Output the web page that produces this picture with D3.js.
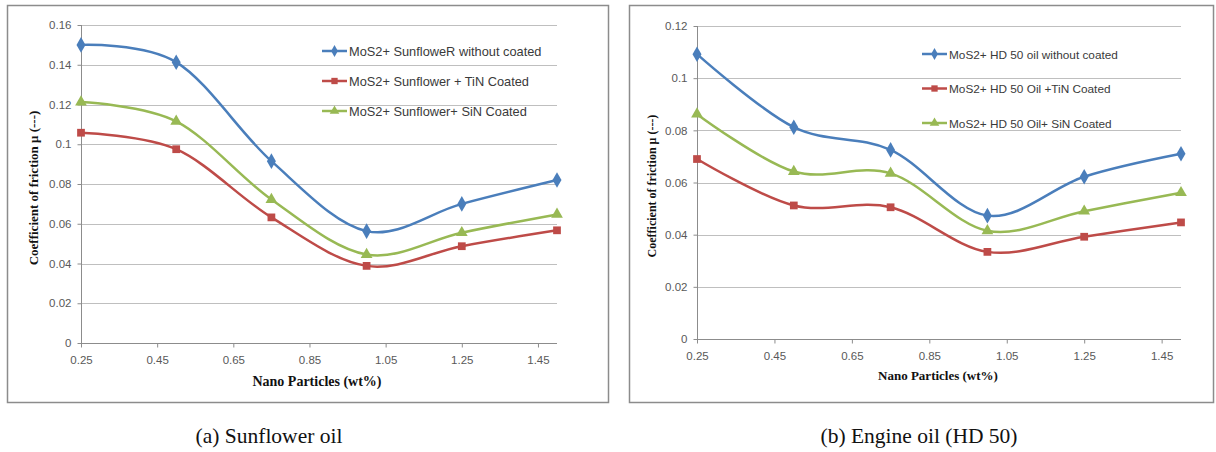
<!DOCTYPE html>
<meta charset="utf-8">
<style>
  body { margin: 0; background: #fff; }
  svg { display: block; }
</style>
<svg width="1216" height="452"></svg>
<script src="https://d3js.org/d3.v7.min.js"></script>
<script>

var loads = [0.25, 0.5, 0.75, 1.0, 1.25, 1.5];
var xTicks = [0.25, 0.45, 0.65, 0.85, 1.05, 1.25, 1.45];

// (a) sunflower oil
var sunNames = ["MoS2+ SunfloweR without coated", "MoS2+ Sunflower + TiN Coated", "MoS2+ Sunflower+ SiN Coated"];
var sunPlain = [0.150, 0.1413, 0.0915, 0.0563, 0.0700, 0.0820];
var sunTiN   = [0.1058, 0.0975, 0.0632, 0.0388, 0.0487, 0.0567];
var sunSiN   = [0.1212, 0.1115, 0.0722, 0.0445, 0.0555, 0.0647];
var sunYTicks = [0, 0.02, 0.04, 0.06, 0.08, 0.1, 0.12, 0.14, 0.16];

// (b) engine oil HD 50
var hdNames = ["MoS2+ HD 50 oil without coated", "MoS2+ HD 50 Oil +TiN Coated", "MoS2+ HD 50 Oil+ SiN Coated"];
var hdPlain = [0.1092, 0.0812, 0.0725, 0.0473, 0.0622, 0.0710];
var hdTiN   = [0.0690, 0.0512, 0.0505, 0.0334, 0.0392, 0.0447];
var hdSiN   = [0.0862, 0.0642, 0.0635, 0.0415, 0.0490, 0.0561];
var hdYTicks = [0, 0.02, 0.04, 0.06, 0.08, 0.1, 0.12];

var colors = ["#4A7EBB", "#BE4B48", "#98B954"];
var shapes = [d3.symbolDiamond, d3.symbolSquare, d3.symbolTriangle];

var svg = d3.select("svg");

function drawPanel(p) {
  var g = svg.append("g");

  g.append("rect")
    .attr("x", p.frame[0] + 0.5).attr("y", p.frame[1] + 0.5)
    .attr("width", p.frame[2]).attr("height", p.frame[3])
    .style("fill", "none").style("stroke", "#8c8c8c").style("stroke-width", 1.5);

  var x = d3.scaleLinear().domain([0.25, 1.5]).range(p.xr);
  var y = d3.scaleLinear().domain([0, p.yMax]).range(p.yr);

  // gridlines
  g.append("g").selectAll("line")
    .data(p.yTicks.slice(1))
    .enter().append("line")
      .attr("x1", p.xr[0]).attr("x2", p.xr[1])
      .attr("y1", function(d) { return Math.round(y(d)) + 0.5; })
      .attr("y2", function(d) { return Math.round(y(d)) + 0.5; })
      .style("stroke", "#bfbfbf");

  var yAxis = g.append("g")
    .attr("transform", "translate(" + (p.xr[0] + 0.5) + ",0)")
    .call(d3.axisLeft(y).tickValues(p.yTicks).tickSize(4).tickPadding(6)
      .tickFormat(function(d) { return d3.format("~g")(d); }));
  var xAxis = g.append("g")
    .attr("transform", "translate(0," + (Math.round(p.yr[0]) + 0.5) + ")")
    .call(d3.axisBottom(x).tickValues(xTicks).tickSize(4).tickPadding(8)
      .tickFormat(d3.format(".2f")));
  [yAxis, xAxis].forEach(function(a) {
    a.selectAll("path").style("stroke", "#8c8c8c").attr("d", a === yAxis
      ? "M0," + p.yr[0] + "V" + p.yr[1]
      : "M" + p.xr[0] + ",0H" + p.xr[1]);
    a.selectAll("line").style("stroke", "#8c8c8c");
    a.selectAll("text").style("font-family", "'Liberation Sans', Arial, sans-serif")
      .style("font-size", "11.5px").style("fill", "#595959");
  });

  var line = d3.line()
    .x(function(d, i) { return x(loads[i]); })
    .y(function(d) { return y(d); })
    .curve(d3.curveCatmullRom.alpha(0));

  p.series.forEach(function(vals, k) {
    g.append("path").datum(vals)
      .attr("d", line)
      .style("fill", "none").style("stroke", colors[k]).style("stroke-width", 2.5);
    g.append("g").selectAll("path")
      .data(vals).enter().append("path")
        .attr("transform", function(d, i) { return "translate(" + x(loads[i]) + "," + y(d) + ")"; })
        .attr("d", d3.symbol().type(shapes[k]).size(k === 0 ? 70 : 60))
        .style("fill", colors[k]);
  });

  // legend
  p.names.forEach(function(name, k) {
    var ly = p.legend[1] + k * p.legend[2];
    g.append("line")
      .attr("x1", p.legend[0]).attr("x2", p.legend[0] + 25)
      .attr("y1", ly).attr("y2", ly)
      .style("stroke", colors[k]).style("stroke-width", 2.5);
    g.append("path")
      .attr("transform", "translate(" + (p.legend[0] + 12.5) + "," + ly + ")")
      .attr("d", d3.symbol().type(shapes[k]).size(40))
      .style("fill", colors[k]);
    g.append("text")
      .attr("x", p.legend[0] + 27).attr("y", ly + 4.5)
      .text(name)
      .style("font-family", "'Liberation Sans', Arial, sans-serif")
      .style("font-size", p.legendSize + "px").style("fill", "#3a3a3a");
  });

  // axis titles
  g.append("text")
    .attr("transform", "translate(" + p.yTitle[0] + "," + p.yTitle[1] + ") rotate(-90)")
    .attr("text-anchor", "middle")
    .text("Coefficient of  friction μ (---)")
    .style("font-family", "'Liberation Serif', 'Times New Roman', serif")
    .style("font-weight", "bold").style("font-size", p.yTitle[2] + "px").style("fill", "#111");
  g.append("text")
    .attr("x", p.xTitle[0]).attr("y", p.xTitle[1])
    .attr("text-anchor", "middle")
    .text("Nano Particles (wt%)")
    .style("font-family", "'Liberation Serif', 'Times New Roman', serif")
    .style("font-weight", "bold").style("font-size", p.xTitle[2] + "px").style("fill", "#111");

  // caption
  svg.append("text")
    .attr("x", p.caption[0]).attr("y", p.caption[1])
    .attr("text-anchor", "middle")
    .text(p.captionText)
    .style("font-family", "'Liberation Serif', 'Times New Roman', serif")
    .style("font-size", "21.5px").style("fill", "#111");
}

drawPanel({
  frame: [7, 5, 601, 397],
  xr: [81, 557], yr: [343, 25], yMax: 0.16, yTicks: sunYTicks,
  series: [sunPlain, sunTiN, sunSiN], names: sunNames, legendSize: 12.8,
  legend: [322, 51, 30],
  yTitle: [38, 188, 13], xTitle: [317, 386, 14],
  caption: [269, 443], captionText: "(a) Sunflower oil"
});

drawPanel({
  frame: [629, 5, 584, 397],
  xr: [697, 1181], yr: [339, 26], yMax: 0.12, yTicks: hdYTicks,
  series: [hdPlain, hdTiN, hdSiN], names: hdNames, legendSize: 11.8,
  legend: [922, 54, 34.5],
  yTitle: [656, 186, 12], xTitle: [938, 380, 13],
  caption: [919, 443], captionText: "(b) Engine oil (HD 50)"
});

</script>
